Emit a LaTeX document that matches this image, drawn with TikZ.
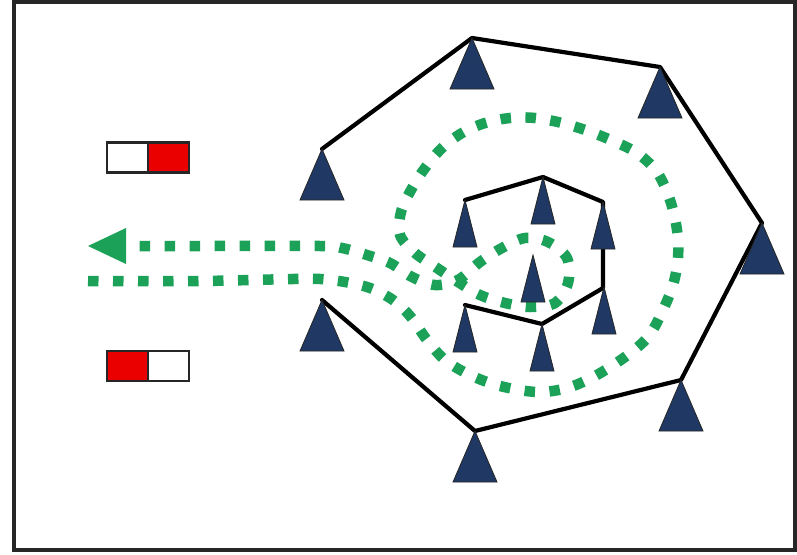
\documentclass[tikz,border=0pt]{standalone}
\usetikzlibrary{calc}
\definecolor{navy}{RGB}{31,56,100}
\definecolor{dotgreen}{RGB}{28,162,88}
\definecolor{boxred}{RGB}{235,0,0}
\begin{document}
\begin{tikzpicture}[x=1pt,y=-1pt,
  bigtri/.pic={\fill[navy,draw=black!85,line width=0.8pt] (0,0) -- (-22,51) -- (22,51) -- cycle;},
  smalltri/.pic={\fill[navy,draw=black!85,line width=0.8pt] (0,0) -- (-12,47) -- (12,47) -- cycle;},
  wire/.style={draw=black,line width=4.2pt,line join=round,line cap=round},
  greendots/.style={draw=dotgreen,line width=10.5pt,dash pattern=on 10.5pt off 14.5pt},
  swatch/.style={draw=black!85,line width=2.4pt,minimum width=41pt,minimum height=30pt,inner sep=0pt,outer sep=0pt}]
\useasboundingbox (0,0) rectangle (797,554);
\fill[white] (0,0) rectangle (797,554);
\draw[line width=3.2pt,black!85] (14,2) rectangle (795,550);

% swatches
\node[swatch,fill=white] (s1w) at (127.5,157.5) {};
\node[swatch,fill=boxred,anchor=west] (s1r) at (s1w.east) {};
\node[swatch,fill=boxred] (s2r) at (127.5,366) {};
\node[swatch,fill=white,anchor=west] (s2w) at (s2r.east) {};

% apex coordinates
\coordinate (T1) at (472,38);
\coordinate (T2) at (660,67);
\coordinate (T3) at (322,149);
\coordinate (T4) at (762,223);
\coordinate (T5) at (322,300);
\coordinate (T6) at (681,380);
\coordinate (T7) at (475,431);
\coordinate (I1) at (465,200);
\coordinate (I2) at (543,177);
\coordinate (I3) at (603,202);
\coordinate (IC) at (533,255);
\coordinate (I4) at (604,287);
\coordinate (I5) at (465,305);
\coordinate (I6) at (542,324);
\coordinate (bend) at (603,288);

% green spiral path
\coordinate (arrtip) at (88,246);
\draw[greendots] plot[smooth,tension=0.55] coordinates {
 (88,281) (200,281) (293,279) (320,279) (345,282) (370,288) (393,300) (410,316)
 (427,340) (445,360) (470,375) (500,386) (537,392) (567,388) (595,376) (625,357)
 (648,337) (662,312) (673,285) (678,258) (677,230) (670,200) (657,172) (637,153)
 (613,141) (588,131) (562,123) (535,118) (510,118) (485,123) (462,133) (442,148)
 (425,168) (411,190) (401,212) (400,235) (415,253) (437,268) (458,282) (480,295)
 (505,303) (530,307) (555,303) (568,283) (567,258) (548,242) (525,238) (502,248)
 (480,262) (458,280) (435,285) (412,277) (390,263) (367,255) (342,248) (320,246)
 (200,246) (128,246)};
\fill[dotgreen] (arrtip) -- ++(38,-18) -- ++(0,36) -- cycle;

% wires
\draw[wire] (T3) -- (T1) -- (T2) -- (T4) -- (T6) -- (T7) -- (T5);
\draw[wire] (I1) -- (I2) -- (I3) -- (bend) -- (I6) -- (I5);

% triangles
\foreach \p in {T1,T2,T3,T4,T5,T6,T7} \pic at (\p) {bigtri};
\foreach \p in {I1,I2,I3,IC,I4,I5,I6} \pic at (\p) {smalltri};
\end{tikzpicture}
\end{document}
